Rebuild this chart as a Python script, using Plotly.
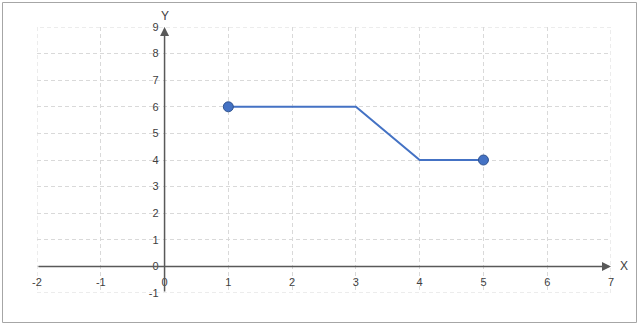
import plotly.graph_objects as go

x_vals = [1, 3, 4, 5]
y_vals = [6, 6, 4, 4]
x_ticks = [-2, -1, 0, 1, 2, 3, 4, 5, 6, 7]
y_ticks = [-1, 0, 1, 2, 3, 4, 5, 6, 7, 8, 9]
x_tick_labels = ["-2", "-1", "0", "1", "2", "3", "4", "5", "6", "7"]
y_tick_labels = ["-1", "0", "1", "2", "3", "4", "5", "6", "7", "8", "9"]
x_range = [-2, 7]
y_range = [-1, 9]

blue = "#4472C4"
axis_col = "#595959"
grid_col = "#d9d9d9"
font = dict(family="Liberation Sans, Arial", size=11, color="#404040")

fig = go.Figure()
fig.add_trace(go.Scatter(x=x_vals, y=y_vals, mode="lines",
                         line=dict(color=blue, width=2), hoverinfo="skip"))
fig.add_trace(go.Scatter(x=[x_vals[0], x_vals[-1]], y=[y_vals[0], y_vals[-1]], mode="markers",
                         marker=dict(color=blue, size=10, line=dict(color="#2F528F", width=1)),
                         hoverinfo="skip"))

xpos = (0 - x_range[0]) / (x_range[1] - x_range[0])
ypos = (0 - y_range[0]) / (y_range[1] - y_range[0])

fig.update_layout(
    width=640, height=326,
    margin=dict(l=37, r=29, t=27, b=33),
    paper_bgcolor="white", plot_bgcolor="white",
    showlegend=False,
    font=font,
    xaxis=dict(range=x_range, tickvals=x_ticks, ticktext=x_tick_labels, showgrid=True,
               gridcolor=grid_col, griddash="4px,3px", gridwidth=1, zeroline=False,
               showline=False, anchor="free", position=ypos, ticks="", ticklabelstandoff=8,
               tickfont=font, fixedrange=True),
    yaxis=dict(range=y_range, tickvals=y_ticks, ticktext=y_tick_labels, showgrid=True,
               gridcolor=grid_col, griddash="4px,3px", gridwidth=1, zeroline=False,
               showline=False, anchor="free", position=xpos, ticks="", ticklabelstandoff=6,
               tickfont=font, fixedrange=True),
)

# dashed boundary grid box
fig.add_shape(type="rect", xref="x", yref="y", x0=x_range[0], x1=x_range[1],
              y0=y_range[0], y1=y_range[1], layer="below",
              line=dict(color=grid_col, width=1, dash="4px,3px"))

# axis lines with arrows
fig.add_annotation(x=x_range[1], y=0, ax=x_range[0], ay=0, xref="x", yref="y",
                   axref="x", ayref="y", showarrow=True, arrowhead=2, arrowsize=1.2,
                   arrowwidth=1.5, arrowcolor=axis_col, text="")
fig.add_annotation(x=0, y=y_range[1], ax=0, ay=y_range[0], xref="x", yref="y",
                   axref="x", ayref="y", showarrow=True, arrowhead=2, arrowsize=1.2,
                   arrowwidth=1.5, arrowcolor=axis_col, text="")
fig.add_annotation(x=x_range[1], y=0, xref="x", yref="y", text="X", showarrow=False,
                   xshift=13, font=dict(family="Liberation Sans, Arial", size=12, color="#404040"))
fig.add_annotation(x=0, y=y_range[1], xref="x", yref="y", text="Y", showarrow=False,
                   yshift=11, font=dict(family="Liberation Sans, Arial", size=12, color="#404040"))

# outer frame
fig.add_shape(type="rect", xref="paper", yref="paper",
              x0=(2.5 - 37) / 574, x1=(636.5 - 37) / 574,
              y0=(293 - 322.5) / 266, y1=(293 - 2.5) / 266,
              line=dict(color="#a6a6a6", width=1))

fig.write_html("out.html")
